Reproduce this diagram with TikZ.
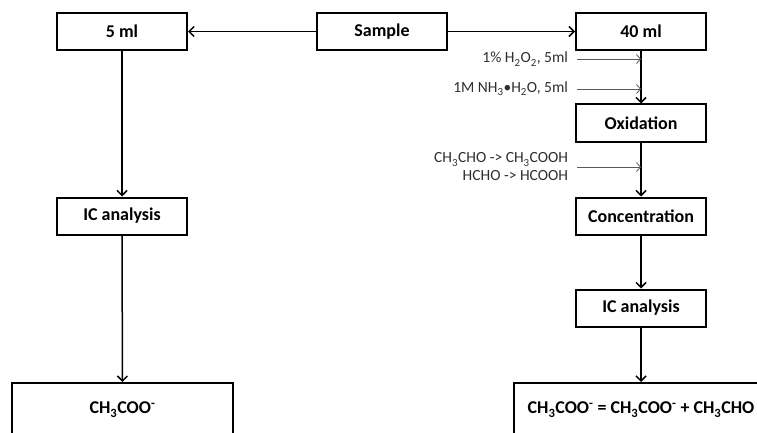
\documentclass[tikz,border=0pt]{standalone}
\usepackage{fontspec}
\setmainfont{Carlito}
\usepackage{tikz}
\usetikzlibrary{arrows.meta,calc}
\definecolor{reagent}{HTML}{2E2E2E}
\definecolor{feedline}{HTML}{595959}
\newcommand{\boxfont}{\fontsize{18}{21}\selectfont\bfseries}
\newcommand{\notefont}{\fontsize{15.5}{18}\selectfont}
\newcommand{\sub}[1]{\raisebox{-0.15ex}{\textsubscript{#1}}}

\begin{document}
\begin{tikzpicture}[x=1pt, y=-1pt, >={Straight Barb[length=5pt,width=10pt]},
    stepbox/.style={draw, line width=2pt, minimum width=130pt, minimum height=37pt, font=\boxfont},
    resbox/.style={draw, line width=2pt, minimum height=53pt, font=\boxfont},
    flow/.style={->, line width=1.5pt},
    feed/.style={->, line width=0.8pt, feedline, >={Straight Barb[length=4pt,width=9pt]}},
    note/.style={anchor=east, inner xsep=9pt, outer sep=0pt, text=reagent, font=\notefont}]
  \clip (0,0) rectangle (757,433);
  % Boxes
  \node[stepbox] (sample) at (382,31.5) {Sample};
  \node[stepbox] (five) at (122,31.5) {5 ml};
  \node[stepbox] (forty) at (641,31.5) {40 ml};
  \node[stepbox] (oxid) at (641,123) {Oxidation};
  \node[stepbox] (conc) at (641,216) {Concentration};
  \node[stepbox] (icleft) at (122,216) {IC analysis};
  \node[stepbox] (icright) at (641,308) {IC analysis};
  \node[resbox, minimum width=221pt] (resleft) at (122.5,409.5) {CH\sub{3}COO\textsuperscript{-}};
  \node[resbox, minimum width=254pt] (resright) at (641,409.5)
    {CH\sub{3}COO\textsuperscript{-} = CH\sub{3}COO\textsuperscript{-} + CH\sub{3}CHO};
  % Flow
  \draw[flow] (sample) -- (five);
  \draw[flow] (sample) -- (forty);
  \draw[flow] (five) -- (icleft);
  \draw[flow] (icleft) -- (resleft);
  \draw[flow] (forty) -- (oxid);
  \draw[flow] (oxid) -- (conc);
  \draw[flow] (conc) -- (icright);
  \draw[flow] (icright) -- (resright);
  % Reagents
  \node[note] (h2o2) at (577,59) {1\% H\sub{2}O\sub{2}, 5ml};
  \node[note] (nh3) at (577,89) {1M NH\sub{3}•H\sub{2}O, 5ml};
  \node[note, align=right] (ald) at (577,167) {CH\sub{3}CHO -> CH\sub{3}COOH\\HCHO -> HCOOH};
  \draw[feed] (h2o2.east) -- (h2o2.east -| forty.south);
  \draw[feed] (nh3.east) -- (nh3.east -| forty.south);
  \draw[feed] (ald.east) -- (ald.east -| oxid.south);
\end{tikzpicture}
\end{document}
